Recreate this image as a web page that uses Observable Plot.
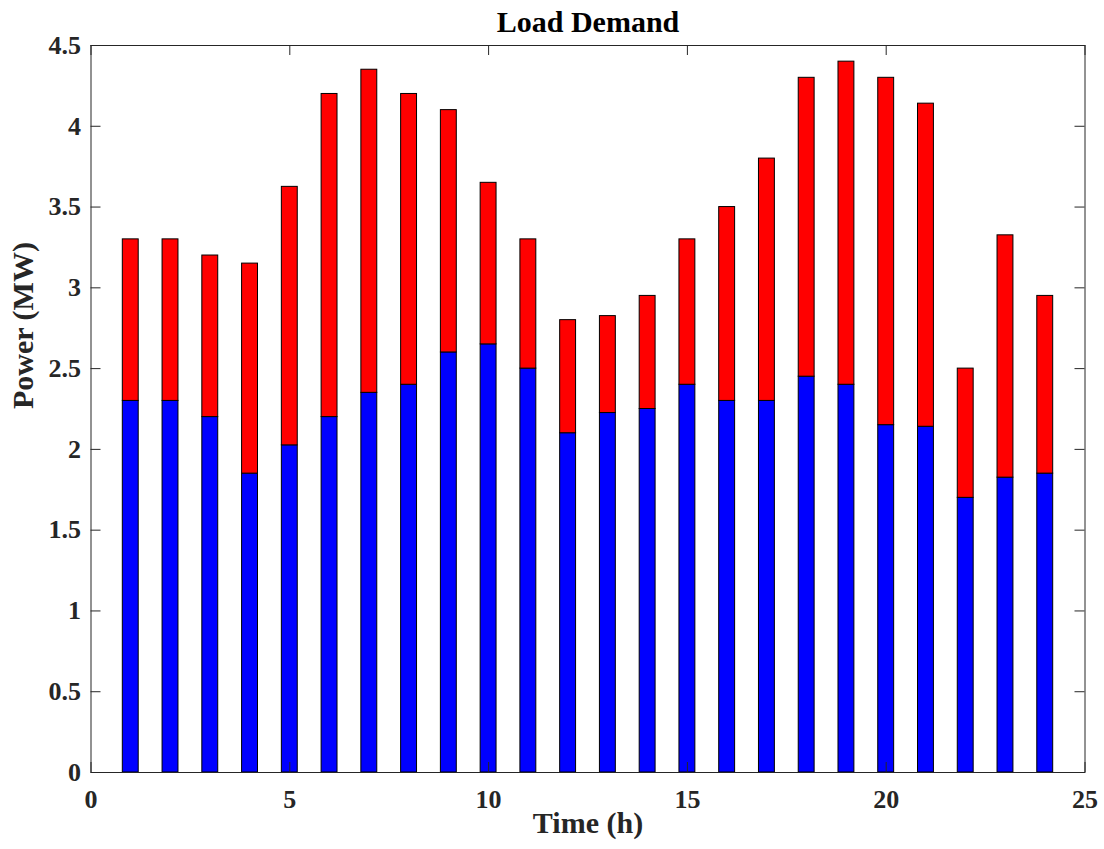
<!DOCTYPE html>
<html>
<head>
<meta charset="utf-8">
<script src="https://cdn.jsdelivr.net/npm/d3@7"></script>
<script src="https://cdn.jsdelivr.net/npm/@observablehq/plot@0.6"></script>
<style>
  html, body { margin: 0; padding: 0; background: #fff; }
</style>
</head>
<body>
<div id="chart"></div>
<script>
// ---- data ----
const hours = [1,2,3,4,5,6,7,8,9,10,11,12,13,14,15,16,17,18,19,20,21,22,23,24];
const blueLoad = [2.3,2.3,2.2,1.85,2.025,2.2,2.35,2.4,2.6,2.65,2.5,2.1,2.225,2.25,2.4,2.3,2.3,2.45,2.4,2.15,2.14,1.7,1.825,1.85];
const redLoad  = [1.0,1.0,1.0,1.3,1.6,2.0,2.0,1.8,1.5,1.0,0.8,0.7,0.6,0.7,0.9,1.2,1.5,1.85,2.0,2.15,2.0,0.8,1.5,1.1];
const xTicks = [0,5,10,15,20,25];
const yTicks = [0,0.5,1,1.5,2,2.5,3,3.5,4,4.5];
const titleText = "Load Demand";
const xLabel = "Time (h)";
const yLabel = "Power (MW)";

const rows = hours.map((h, i) => ({hour: h, blue: blueLoad[i], red: redLoad[i]}));
const halfWidth = 0.2;

const W = 1104, H = 849;
const mL = 90.5, mR = 19.5, mT = 45, mB = 77;
const innerW = W - mL - mR, innerH = H - mT - mB;
const tickLen = 10;
const axisColor = "#262626";
const fmt = d => String(d);

const chart = Plot.plot({
  width: W,
  height: H,
  marginLeft: mL,
  marginRight: mR,
  marginTop: mT,
  marginBottom: mB,
  style: {fontFamily: "'Liberation Serif', 'Times New Roman', serif", fontWeight: "bold", fontSize: "26px", color: axisColor, background: "#fff"},
  x: {domain: [0, 25]},
  y: {domain: [0, 4.5]},
  marks: [
    Plot.rectY(rows, {x1: d => d.hour - halfWidth, x2: d => d.hour + halfWidth, y1: 0, y2: d => d.blue, fill: "#0000ff", stroke: "#000", strokeWidth: 1}),
    Plot.rectY(rows, {x1: d => d.hour - halfWidth, x2: d => d.hour + halfWidth, y1: d => d.blue, y2: d => d.blue + d.red, fill: "#ff0000", stroke: "#000", strokeWidth: 1}),
    // inward ticks
    Plot.tickY(yTicks, {y: d => d, insetRight: innerW - tickLen, stroke: axisColor}),
    Plot.tickY(yTicks, {y: d => d, insetLeft: innerW - tickLen, stroke: axisColor}),
    Plot.tickX(xTicks, {x: d => d, insetTop: innerH - tickLen, stroke: axisColor}),
    Plot.tickX(xTicks, {x: d => d, insetBottom: innerH - tickLen, stroke: axisColor}),
    Plot.axisX({ticks: xTicks, tickSize: 0, tickPadding: 17, label: null, tickFormat: fmt}),
    Plot.axisY({ticks: yTicks, tickSize: 0, tickPadding: 10, label: null, tickFormat: fmt}),
    Plot.frame({stroke: axisColor, strokeWidth: 1}),
    Plot.text([titleText], {frameAnchor: "top", text: d => d, dy: -23.5, fontSize: 30, fontWeight: "bold", fill: "#000", lineAnchor: "middle"}),
    Plot.text([xLabel], {frameAnchor: "bottom", text: d => d, dy: 50.5, fontSize: 30, fontWeight: "bold", fill: axisColor, lineAnchor: "middle"}),
    Plot.text([yLabel], {frameAnchor: "left", text: d => d, dx: -67.5, rotate: -90, fontSize: 30, fontWeight: "bold", fill: axisColor, lineAnchor: "middle"})
  ]
});
document.getElementById("chart").appendChild(chart);
</script>
</body>
</html>
